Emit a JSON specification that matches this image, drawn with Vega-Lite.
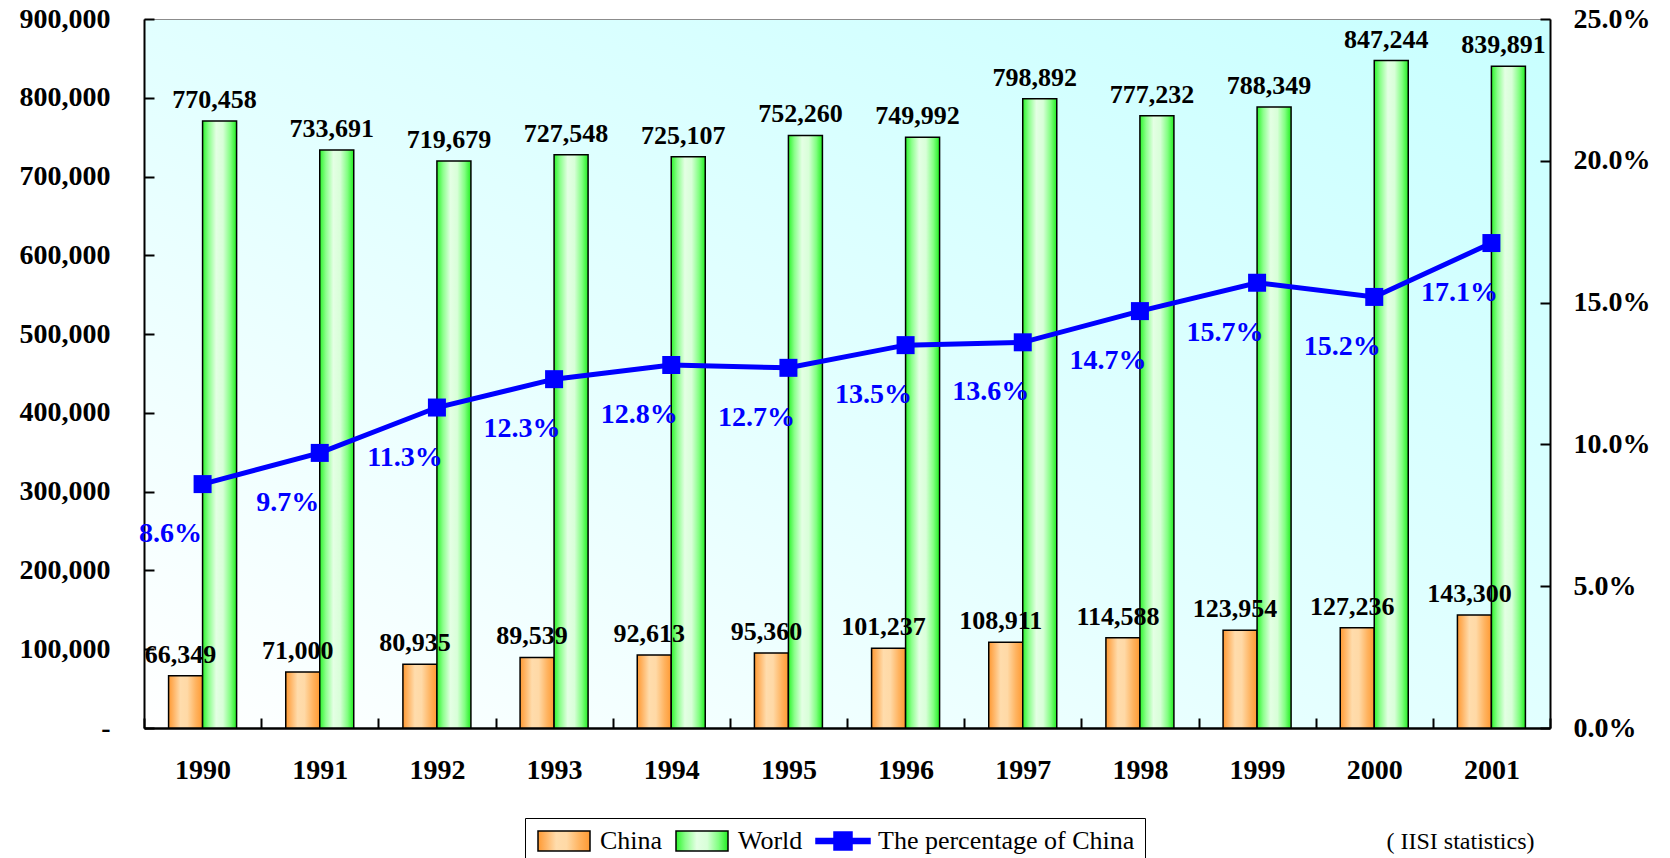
{
  "$schema": "https://vega.github.io/schema/vega-lite/v6.json",
  "width": 1406,
  "height": 709,
  "autosize": {"type": "none"},
  "padding": {"left": 144, "top": 19, "right": 120, "bottom": 130},
  "background": "white",
  "view": {
    "stroke": "#8c8c8c",
    "strokeWidth": 1,
    "fill": {
      "gradient": "linear", "x1": 0, "y1": 1, "x2": 1, "y2": 0,
      "stops": [
        {"offset": 0, "color": "#ffffff"},
        {"offset": 0.45, "color": "#e4ffff"},
        {"offset": 1, "color": "#c8ffff"}
      ]
    }
  },
  "config": {
    "font": "Liberation Serif",
    "axis": {
      "grid": false,
      "domainColor": "black",
      "domainWidth": 2,
      "tickColor": "black",
      "tickWidth": 2,
      "tickSize": -10,
      "labelFont": "Liberation Serif",
      "labelFontWeight": "bold",
      "labelFontSize": 28,
      "labelColor": "black"
    }
  },
  "datasets": {
    "bars": [
      {"year": "1990", "series": "China", "value": 66349},
      {"year": "1991", "series": "China", "value": 71000},
      {"year": "1992", "series": "China", "value": 80935},
      {"year": "1993", "series": "China", "value": 89539},
      {"year": "1994", "series": "China", "value": 92613},
      {"year": "1995", "series": "China", "value": 95360},
      {"year": "1996", "series": "China", "value": 101237},
      {"year": "1997", "series": "China", "value": 108911},
      {"year": "1998", "series": "China", "value": 114588},
      {"year": "1999", "series": "China", "value": 123954},
      {"year": "2000", "series": "China", "value": 127236},
      {"year": "2001", "series": "China", "value": 143300},
      {"year": "1990", "series": "World", "value": 770458},
      {"year": "1991", "series": "World", "value": 733691},
      {"year": "1992", "series": "World", "value": 719679},
      {"year": "1993", "series": "World", "value": 727548},
      {"year": "1994", "series": "World", "value": 725107},
      {"year": "1995", "series": "World", "value": 752260},
      {"year": "1996", "series": "World", "value": 749992},
      {"year": "1997", "series": "World", "value": 798892},
      {"year": "1998", "series": "World", "value": 777232},
      {"year": "1999", "series": "World", "value": 788349},
      {"year": "2000", "series": "World", "value": 847244},
      {"year": "2001", "series": "World", "value": 839891}
    ],
    "pct": [
      {"year": "1990", "share": 0.086},
      {"year": "1991", "share": 0.097},
      {"year": "1992", "share": 0.113},
      {"year": "1993", "share": 0.123},
      {"year": "1994", "share": 0.128},
      {"year": "1995", "share": 0.127},
      {"year": "1996", "share": 0.135},
      {"year": "1997", "share": 0.136},
      {"year": "1998", "share": 0.147},
      {"year": "1999", "share": 0.157},
      {"year": "2000", "share": 0.152},
      {"year": "2001", "share": 0.171}
    ]
  },
  "encoding": {
    "x": {
      "field": "year",
      "type": "ordinal",
      "scale": {"paddingInner": 0, "paddingOuter": 0},
      "axis": {
        "domainWidth": 2.5,
        "tickBand": "extent",
        "labelAngle": 0,
        "labelPadding": 38,
        "title": "( IISI statistics)",
        "titleFont": "Liberation Serif",
        "titleFontSize": 24,
        "titleFontWeight": "normal",
        "titleColor": "black",
        "titleAnchor": "end",
        "titleAlign": "right",
        "titleBaseline": "middle",
        "titleX": 1390,
        "titleY": 113
      }
    }
  },
  "layer": [
    {
      "layer": [
        {
          "data": {"name": "bars"},
          "transform": [{"filter": "datum.series === 'China'"}],
          "mark": {
            "type": "bar", "stroke": "black", "strokeWidth": 1.5,
            "fill": {
              "gradient": "linear", "x1": 0, "y1": 0, "x2": 1, "y2": 0,
              "stops": [
                {"offset": 0, "color": "#ff9a33"},
                {"offset": 0.15, "color": "#ffb566"},
                {"offset": 0.35, "color": "#ffdcac"},
                {"offset": 0.55, "color": "#ffd9a6"},
                {"offset": 0.8, "color": "#ffb35f"},
                {"offset": 1, "color": "#ff9a33"}
              ]
            }
          },
          "encoding": {
            "xOffset": {
              "field": "series",
              "type": "nominal",
              "scale": {"domain": ["China", "World"], "paddingInner": 0, "paddingOuter": 0.723}
            },
            "y": {
              "field": "value",
              "type": "quantitative",
              "scale": {"domain": [0, 900000], "nice": false},
              "axis": {
                "orient": "left",
                "title": null,
                "values": [0, 100000, 200000, 300000, 400000, 500000, 600000, 700000, 800000, 900000],
                "labelExpr": "datum.value === 0 ? '-' : format(datum.value, ',')",
                "labelPadding": 44
              }
            }
          }
        },
        {
          "data": {"name": "bars"},
          "transform": [{"filter": "datum.series === 'World'"}],
          "mark": {
            "type": "bar", "stroke": "black", "strokeWidth": 1.5,
            "fill": {
              "gradient": "linear", "x1": 0, "y1": 0, "x2": 1, "y2": 0,
              "stops": [
                {"offset": 0, "color": "#2cf52c"},
                {"offset": 0.18, "color": "#8cff8c"},
                {"offset": 0.4, "color": "#e4ffe4"},
                {"offset": 0.6, "color": "#d8ffd8"},
                {"offset": 0.82, "color": "#80ff80"},
                {"offset": 1, "color": "#22ee22"}
              ]
            }
          },
          "encoding": {
            "xOffset": {"field": "series", "type": "nominal"},
            "y": {"field": "value", "type": "quantitative"}
          }
        },
        {
          "data": {"name": "bars"},
          "mark": {"type": "text", "fontWeight": "bold", "fontSize": 26, "font": "Liberation Serif", "color": "black", "dy": -21, "dx": -5, "baseline": "middle"},
          "encoding": {
            "xOffset": {"field": "series", "type": "nominal"},
            "y": {"field": "value", "type": "quantitative"},
            "text": {"field": "value", "type": "quantitative", "format": ","}
          }
        }
      ]
    },
    {
      "layer": [
        {
          "data": {"name": "pct"},
          "mark": {"type": "line", "strokeWidth": 5},
          "encoding": {
            "y": {
              "field": "share",
              "type": "quantitative",
              "scale": {"domain": [0, 0.25], "nice": false},
              "axis": {
                "orient": "right",
                "title": null,
                "values": [0, 0.05, 0.1, 0.15, 0.2, 0.25],
                "format": ".1%",
                "labelPadding": 33
              }
            },
            "stroke": {
              "datum": "The percentage of China",
              "type": "nominal",
              "scale": {
                "domain": ["China", "World", "The percentage of China"],
                "range": ["black", "black", "#0000ff"]
              },
              "legend": {
                "orient": "none",
                "legendX": 381,
                "legendY": 799,
                "direction": "horizontal",
                "title": null,
                "symbolType": {"expr": "datum.value === 'The percentage of China' ? 'M-1,-0.25H4.4V0.25H-1Z M0.8,-0.9H2.6V0.9H0.8Z' : 'M-1,-1H4.2V1H-1Z'"},
                "symbolSize": 400,
                "symbolOpacity": 1,
                "symbolStrokeWidth": 1.5,
                "symbolFillColor": {"expr": "datum.value === 'China' ? {gradient: 'linear', x1: 0, y1: 0, x2: 1, y2: 0, stops: [{offset: 0, color: '#ff9a33'}, {offset: 0.15, color: '#ffb566'}, {offset: 0.35, color: '#ffdcac'}, {offset: 0.55, color: '#ffd9a6'}, {offset: 0.8, color: '#ffb35f'}, {offset: 1, color: '#ff9a33'}]} : datum.value === 'World' ? {gradient: 'linear', x1: 0, y1: 0, x2: 1, y2: 0, stops: [{offset: 0, color: '#2cf52c'}, {offset: 0.18, color: '#8cff8c'}, {offset: 0.4, color: '#e4ffe4'}, {offset: 0.6, color: '#d8ffd8'}, {offset: 0.82, color: '#80ff80'}, {offset: 1, color: '#22ee22'}]} : '#0000ff'"},
                "labelFont": "Liberation Serif",
                "labelFontSize": 26,
                "labelColor": "black",
                "labelOffset": 39,
                "labelLimit": 500,
                "columnPadding": 10,
                "padding": 10,
                "strokeColor": "black",
                "fillColor": "white"
              }
            }
          }
        },
        {
          "data": {"name": "pct"},
          "mark": {"type": "point", "shape": "square", "size": 324, "filled": true, "color": "#0000ff", "opacity": 1},
          "encoding": {
            "y": {"field": "share", "type": "quantitative"}
          }
        },
        {
          "data": {"name": "pct"},
          "mark": {"type": "text", "fontWeight": "bold", "fontSize": 28, "font": "Liberation Serif", "color": "#0000ff", "dy": 50, "dx": -32, "baseline": "middle"},
          "encoding": {
            "y": {"field": "share", "type": "quantitative"},
            "text": {"field": "share", "type": "quantitative", "format": ".1%"}
          }
        }
      ]
    }
  ],
  "resolve": {"scale": {"y": "independent"}}
}
